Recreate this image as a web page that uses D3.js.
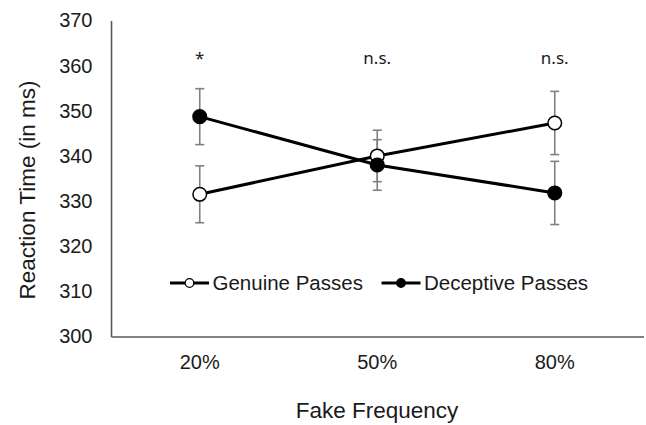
<!DOCTYPE html>
<html>
<head>
  <meta charset="UTF-8">
  <style>
    body { margin: 0; background: #fff; }
    text { font-family: "Liberation Sans", Arial, sans-serif; fill: #1a1a1a; }
  </style>
</head>
<body>
<svg></svg>
<script src="https://d3js.org/d3.v7.min.js"></script>
<script>

let width = 646, height = 425;

// data
let categories = ["20%", "50%", "80%"];
let genuine = [331.5, 340.0, 347.3];
let genuineErr = [6.3, 5.7, 7.0];
let deceptive = [348.7, 338.0, 331.8];
let deceptiveErr = [6.2, 5.6, 7.0];
let annotations = ["*", "n.s.", "n.s."];
let yTicks = [300, 310, 320, 330, 340, 350, 360, 370];

let svg = d3.select("svg")
    .attr("width", width)
    .attr("height", height);

let x = d3.scaleBand().domain(categories).range([111, 643.5]);
let y = d3.scaleLinear().domain([300, 370]).range([336.5, 20.5]);
let cx = d => x(d) + x.bandwidth() / 2;

// y axis
let yAxis = svg.append("g")
    .attr("transform", "translate(111,0)")
    .call(d3.axisLeft(y).tickValues(yTicks).tickSize(0).tickPadding(18.5));
yAxis.select(".domain").attr("stroke", "#595959").attr("stroke-width", 1.6);
yAxis.selectAll("text")
    .style("font-family", "Liberation Sans, Arial, sans-serif")
    .style("font-size", "20px")
    .attr("fill", "#1a1a1a");

// x axis
let xAxis = svg.append("g")
    .attr("transform", "translate(0,336.5)")
    .call(d3.axisBottom(x).tickSize(0).tickPadding(18));
xAxis.select(".domain").attr("stroke", "#595959").attr("stroke-width", 1.6);
xAxis.selectAll("text")
    .style("font-family", "Liberation Sans, Arial, sans-serif")
    .style("font-size", "20px")
    .attr("fill", "#1a1a1a");

// axis titles
svg.append("text")
    .attr("transform", "translate(35,190) rotate(-90)")
    .attr("text-anchor", "middle")
    .style("font-size", "22.5px")
    .text("Reaction Time (in ms)");

svg.append("text")
    .attr("x", 377)
    .attr("y", 418)
    .attr("text-anchor", "middle")
    .style("font-size", "22.5px")
    .text("Fake Frequency");

let series = [
  { name: "Genuine Passes", values: genuine, err: genuineErr, fill: "#fff" },
  { name: "Deceptive Passes", values: deceptive, err: deceptiveErr, fill: "#000" }
];

// error bars
series.forEach(s => {
  let g = svg.append("g").attr("stroke", "#808080").attr("stroke-width", 1.6);
  categories.forEach((c, i) => {
    let v = s.values[i], e = s.err[i];
    g.append("line").attr("x1", cx(c)).attr("x2", cx(c)).attr("y1", y(v - e)).attr("y2", y(v + e));
    g.append("line").attr("x1", cx(c) - 4.5).attr("x2", cx(c) + 4.5).attr("y1", y(v + e)).attr("y2", y(v + e));
    g.append("line").attr("x1", cx(c) - 4.5).attr("x2", cx(c) + 4.5).attr("y1", y(v - e)).attr("y2", y(v - e));
  });
});

let line = d3.line().x((d, i) => cx(categories[i])).y(d => y(d));

series.forEach(s => {
  svg.append("path")
      .datum(s.values)
      .attr("fill", "none")
      .attr("stroke", "#000")
      .attr("stroke-width", 3)
      .attr("d", line);
});

series.forEach(s => {
  svg.append("g").selectAll("circle")
      .data(s.values)
      .enter()
      .append("circle")
      .attr("cx", (d, i) => cx(categories[i]))
      .attr("cy", d => y(d))
      .attr("r", 6.8)
      .attr("fill", s.fill)
      .attr("stroke", "#000")
      .attr("stroke-width", 1.5);
});

// significance labels
svg.append("g").selectAll("text")
    .data(annotations)
    .enter()
    .append("text")
    .attr("x", (d, i) => cx(categories[i]))
    .attr("y", 64)
    .attr("text-anchor", "middle")
    .style("font-family", "Noto Sans, Open Sans, sans-serif")
    .style("font-size", "17px")
    .text(d => d);

// legend
let legendX = [170, 381.5];
series.forEach((s, i) => {
  let g = svg.append("g").attr("transform", "translate(" + legendX[i] + ",283)");
  g.append("line").attr("x1", 0).attr("x2", 39).attr("stroke", "#000").attr("stroke-width", 3);
  g.append("circle").attr("cx", 19.5).attr("r", 4.3)
      .attr("fill", s.fill).attr("stroke", "#000").attr("stroke-width", 1.3);
  g.append("text")
      .attr("x", 42.5)
      .attr("dy", "0.35em")
      .style("font-size", "20.5px")
      .text(s.name);
});

</script>
</body>
</html>
